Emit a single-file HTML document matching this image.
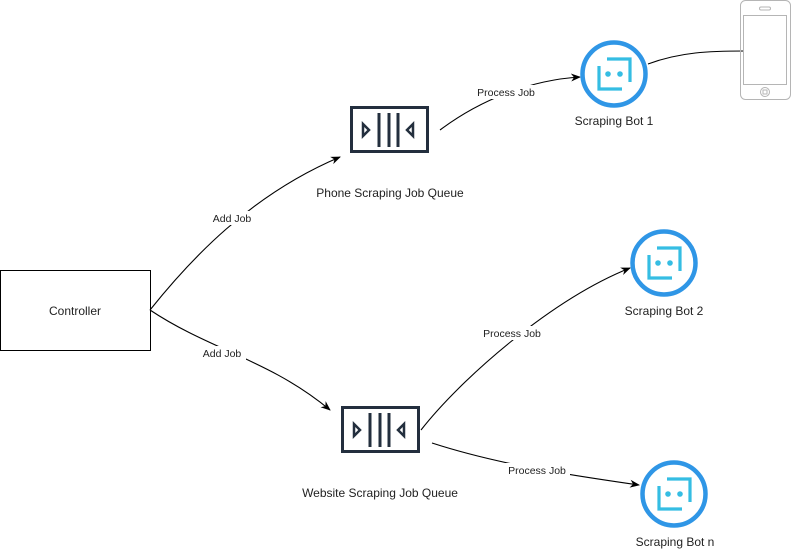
<!DOCTYPE html>
<html><head><style>
body{margin:0;background:#fff;width:791px;height:550px;overflow:hidden}
text{font-family:"Liberation Sans",sans-serif;fill:#222}
</style></head><body>
<svg width="791" height="550" viewBox="0 0 791 550">
<defs>
<marker id="a" markerWidth="10" markerHeight="10" refX="9" refY="5" orient="auto" markerUnits="userSpaceOnUse"><path d="M0,1 L10,5 L0,9 L3,5 Z" fill="#000"/></marker>
<g id="bot">
<circle r="31.5" fill="#fff" stroke="#2f96e6" stroke-width="4.5"/>
<path d="M-7,-15 H16 V8" fill="none" stroke="#35bde3" stroke-width="3.2"/>
<path d="M-15,-8 V15 H8" fill="none" stroke="#35bde3" stroke-width="3.2"/>
<circle cx="-6" cy="0" r="2.8" fill="#35bde3"/><circle cx="6" cy="0" r="2.8" fill="#35bde3"/>
</g>
<g id="q">
<rect x="1.5" y="1.5" width="76" height="44" fill="#fff" stroke="#232f3e" stroke-width="3"/>
<path d="M29,7 V41 M39,7 V41 M48,7 V41" stroke="#232f3e" stroke-width="3"/>
<path d="M13,18 L19,24 L13,30 Z" fill="none" stroke="#232f3e" stroke-width="2.5"/>
<path d="M63,18 L57,24 L63,30 Z" fill="none" stroke="#232f3e" stroke-width="2.5"/>
</g>
</defs>
<rect x="0.5" y="270.5" width="150" height="80" fill="#fff" stroke="#000"/>
<text x="75" y="315" font-size="12" text-anchor="middle">Controller</text>
<g fill="none" stroke="#000" stroke-width="1.1">
<path d="M150,310 C190,260 250,195 340,157" marker-end="url(#a)"/>
<path d="M150,310 C210,350 270,360 330,410" marker-end="url(#a)"/>
<path d="M440,130 C480,100 530,80 580,77" marker-end="url(#a)"/>
<path d="M421,430 C460,380 550,300 630,268" marker-end="url(#a)"/>
<path d="M432,443 C500,465 570,475 639,485" marker-end="url(#a)"/>
<path d="M648,64 C680,52 710,51 745,51"/>
</g>
<use href="#q" x="350" y="106"/>
<use href="#q" x="341" y="406"/>
<use href="#bot" x="614" y="74"/>
<use href="#bot" x="664" y="263"/>
<use href="#bot" x="674" y="494"/>
<g font-size="10.5" text-anchor="middle">
<rect x="208" y="211" width="48" height="14" fill="#fff"/><text x="232" y="222">Add Job</text>
<rect x="198" y="346" width="48" height="14" fill="#fff"/><text x="222" y="357">Add Job</text>
<rect x="474" y="85" width="64" height="14" fill="#fff"/><text x="506" y="96">Process Job</text>
<rect x="480" y="326" width="64" height="14" fill="#fff"/><text x="512" y="337">Process Job</text>
<rect x="504" y="463" width="66" height="14" fill="#fff"/><text x="537" y="474">Process Job</text>
</g>
<g font-size="12" text-anchor="middle">
<text x="390" y="197">Phone Scraping Job Queue</text>
<text x="380" y="497">Website Scraping Job Queue</text>
<text x="614" y="125">Scraping Bot 1</text>
<text x="664" y="315">Scraping Bot 2</text>
<text x="675" y="546">Scraping Bot n</text>
</g>
<g fill="none" stroke="#b5b5b5" stroke-width="1">
<rect x="740.5" y="0.5" width="50" height="99" rx="5"/>
<rect x="743.5" y="15.5" width="43" height="69" fill="#fff"/>
<rect x="759.5" y="7" width="11" height="3" rx="1.5"/>
<circle cx="765" cy="92" r="4.5"/><rect x="763" y="90" width="4" height="4"/>
</g>
</svg>
</body></html>
